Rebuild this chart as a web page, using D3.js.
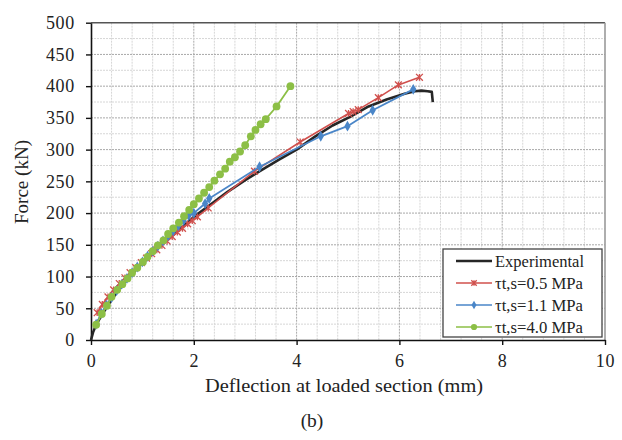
<!DOCTYPE html>
<html>
<head>
<meta charset="utf-8">
<script src="https://cdn.jsdelivr.net/npm/d3@7"></script>
<style>
  body { margin: 0; background: #fff; }
  text { font-family: "Liberation Serif", "DejaVu Serif", serif; fill: #222; }
</style>
</head>
<body>
<div id="chart"></div>
<script>
// values (deflection mm, force kN)
const expX = [0, 0.04, 0.1, 0.2, 0.35, 0.5, 0.7, 0.9, 1.15, 1.4, 1.7, 2.0, 2.3, 2.65, 3.0, 3.3, 3.65, 4.0, 4.35, 4.7, 5.05, 5.4, 5.75, 6.1, 6.3, 6.43, 6.55, 6.63, 6.65];
const expF = [0, 12, 24, 38, 57, 75, 95, 113, 133, 152, 173, 194, 212, 233, 252, 267, 284, 300, 320, 338, 352, 368, 379, 388, 392, 393, 392, 391, 375];

const redX = [0.12, 0.22, 0.33, 0.44, 0.55, 0.66, 0.76, 0.87, 0.98, 1.08, 1.18, 1.28, 1.38, 1.48, 1.58, 1.68, 1.78, 1.88, 1.97, 2.07, 2.28, 3.18, 4.07, 5.01, 5.10, 5.20, 5.59, 5.98, 6.39];
const redF = [43, 56, 68, 79, 89, 98, 106, 114, 122, 129, 136, 142, 149, 156, 163, 170, 176, 183, 188, 194, 208, 266, 312, 357, 360, 363, 382, 402, 414];

const blueX = [0.1, 0.2, 0.3, 0.4, 0.5, 0.6, 0.7, 0.8, 0.9, 1.0, 1.1, 1.2, 1.3, 1.4, 1.5, 1.6, 1.7, 1.8, 1.9, 2.0, 2.22, 2.30, 3.28, 4.47, 4.99, 5.48, 6.27];
const blueF = [25, 42, 55, 67, 78, 88, 97, 106, 115, 123, 132, 140, 148, 156, 164, 172, 180, 188, 196, 200, 215, 223, 273, 321, 337, 362, 395];

const greenX = [0.10, 0.21, 0.31, 0.40, 0.51, 0.61, 0.71, 0.80, 0.90, 1.01, 1.10, 1.20, 1.30, 1.41, 1.50, 1.60, 1.71, 1.81, 1.91, 2.00, 2.10, 2.20, 2.30, 2.40, 2.51, 2.61, 2.70, 2.80, 2.90, 3.00, 3.11, 3.20, 3.30, 3.40, 3.61, 3.88];
const greenF = [24, 41, 54, 68, 79, 88, 97, 106, 114, 123, 131, 140, 149, 157, 167, 176, 185, 195, 205, 214, 223, 232, 241, 251, 261, 270, 281, 288, 297, 307, 321, 331, 340, 348, 368, 400];

const legendLabels = ["Experimental", "\u03c4t,s=0.5 MPa", "\u03c4t,s=1.1 MPa", "\u03c4t,s=4.0 MPa"];
const xTicks = [0, 2, 4, 6, 8, 10];
const yTicks = [0, 50, 100, 150, 200, 250, 300, 350, 400, 450, 500];

const zip = (xs, ys) => xs.map((x, i) => ({x: x, y: ys[i]}));

const series = [
  {name: legendLabels[0], data: zip(expX, expF), color: "#262626", width: 2.6, marker: null},
  {name: legendLabels[1], data: zip(redX, redF), color: "#d0504d", width: 1.6, marker: "star"},
  {name: legendLabels[2], data: zip(blueX, blueF), color: "#4a86c8", width: 1.8, marker: "diamond"},
  {name: legendLabels[3], data: zip(greenX, greenF), color: "#8cbf46", width: 1.8, marker: "circle"}
];

const outerWidth = 622;
const outerHeight = 440;
const margin = {top: 22.7, left: 91, bottom: 100, right: 17};
const width = 605 - margin.left;
const height = 340 - margin.top;

const svg = d3.select("#chart")
    .append("svg")
    .attr("width", outerWidth)
    .attr("height", outerHeight);

const g = svg.append("g")
    .attr("transform", `translate(${margin.left}, ${margin.top})`);

const xScale = d3.scaleLinear().domain([0, 10]).range([0, width]);
const yScale = d3.scaleLinear().domain([0, 500]).range([height, 0]);

// grid, minor first then major
g.append("g").selectAll("line")
    .data(d3.range(0.4, 10, 0.4))
    .join("line")
    .attr("x1", d => xScale(d)).attr("x2", d => xScale(d))
    .attr("y1", 0).attr("y2", height)
    .attr("stroke", d => Math.abs(d / 2 - Math.round(d / 2)) < 0.01 ? "#a8a8a8" : "#d6d6d6")
    .attr("stroke-dasharray", "2,1")
    .attr("stroke-width", 1);

g.append("g").selectAll("line")
    .data(d3.range(25, 500, 25))
    .join("line")
    .attr("x1", 0).attr("x2", width)
    .attr("y1", d => yScale(d)).attr("y2", d => yScale(d))
    .attr("stroke", d => d % 50 === 0 ? "#a8a8a8" : "#d6d6d6")
    .attr("stroke-dasharray", "2,1")
    .attr("stroke-width", 1);

// frame: top dark, right grey
g.append("line").attr("x1", 0).attr("x2", width).attr("y1", 0).attr("y2", 0)
    .attr("stroke", "#555").attr("stroke-width", 1.6);
g.append("line").attr("x1", width).attr("x2", width).attr("y1", 0).attr("y2", height)
    .attr("stroke", "#9a9a9a").attr("stroke-width", 1.6);

// axes
const xAxis = d3.axisBottom(xScale).tickValues(xTicks).tickSize(5).tickPadding(9).tickSizeOuter(0);
const yAxis = d3.axisLeft(yScale).tickValues(yTicks).tickSize(5).tickPadding(11).tickSizeOuter(0);

g.append("g")
    .attr("class", "axis-x-axis")
    .attr("transform", `translate(0, ${height})`)
    .call(xAxis);

g.append("g")
    .attr("class", "axis-y-axis")
    .call(yAxis);

g.selectAll(".axis-x-axis path, .axis-y-axis path").attr("stroke", "#111").attr("stroke-width", 1.6);
g.selectAll(".tick line").attr("stroke", "#111").attr("stroke-width", 1.4);
g.selectAll(".tick text")
    .style("font-family", '"Liberation Serif", serif')
    .style("font-size", "18px")
    .style("letter-spacing", "0.7px")
    .attr("fill", "#222");

// lines
const line = d3.line().x(d => xScale(d.x)).y(d => yScale(d.y));

const starPath = s => `M${-s},${-s}L${s},${s}M${-s},${s}L${s},${-s}M0,${-s}L0,${s}`;

function drawMarkers(sel, s, scale) {
  const k = scale || 1;
  if (s.marker === "star") {
    sel.append("path").attr("d", starPath(3.4 * k))
      .attr("fill", "none").attr("stroke", s.color).attr("stroke-width", 1.3);
  } else if (s.marker === "diamond") {
    sel.append("path").attr("d", d3.symbol().type(d3.symbolDiamond).size(34 * k * k)())
      .attr("fill", s.color);
  } else if (s.marker === "circle") {
    sel.append("circle").attr("r", 3.9 * k).attr("fill", s.color);
  }
}

series.forEach(s => {
  const sg = g.append("g").attr("class", "series");
  sg.append("path")
    .datum(s.data)
    .attr("fill", "none")
    .attr("stroke", s.color)
    .attr("stroke-width", s.width)
    .attr("stroke-linejoin", "round")
    .attr("d", line);
  if (s.marker) {
    sg.selectAll("g.mk")
      .data(s.data)
      .join("g")
      .attr("class", "mk")
      .attr("transform", d => `translate(${xScale(d.x)}, ${yScale(d.y)})`)
      .each(function () { drawMarkers(d3.select(this), s); });
  }
});

// legend
const legend = svg.append("g").attr("transform", "translate(443, 249)");
legend.append("rect")
    .attr("width", 159).attr("height", 88)
    .attr("fill", "#fff")
    .attr("stroke", "#444").attr("stroke-width", 1.3);

series.forEach((s, i) => {
  const row = legend.append("g").attr("transform", `translate(0, ${12 + i * 22})`);
  row.append("line")
    .attr("x1", 13).attr("x2", 49)
    .attr("stroke", s.color).attr("stroke-width", i === 0 ? 2.6 : 1.6);
  if (s.marker) {
    const m = row.append("g").attr("transform", "translate(31, 0)");
    drawMarkers(m, s, 0.8);
  }
  row.append("text")
    .attr("x", 52).attr("y", 0).attr("dy", "0.35em")
    .attr("textLength", i === 0 ? 89 : 88)
    .attr("lengthAdjust", "spacingAndGlyphs")
    .style("font-size", "17px")
    .text(s.name);
});

// titles
svg.append("text")
    .attr("transform", "translate(21, 182) rotate(-90)")
    .attr("text-anchor", "middle")
    .attr("dy", "0.35em")
    .style("font-size", "19px")
    .attr("textLength", 84)
    .attr("lengthAdjust", "spacingAndGlyphs")
    .text("Force (kN)");

svg.append("text")
    .attr("x", 344).attr("y", 385)
    .attr("text-anchor", "middle")
    .attr("dy", "0.35em")
    .style("font-size", "19.5px")
    .attr("textLength", 278)
    .attr("lengthAdjust", "spacingAndGlyphs")
    .text("Deflection at loaded section (mm)");

svg.append("text")
    .attr("x", 312).attr("y", 420)
    .attr("text-anchor", "middle")
    .attr("dy", "0.35em")
    .style("font-size", "19.5px")
    .text("(b)");
</script>
</body>
</html>
